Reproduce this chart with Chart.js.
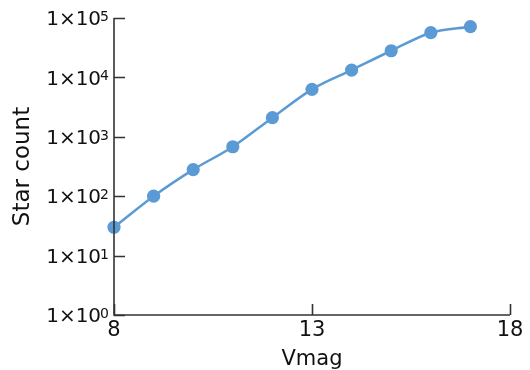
<!DOCTYPE html>
<html>
<head>
<meta charset="utf-8">
<script src="https://cdn.jsdelivr.net/npm/chart.js@4/dist/chart.umd.min.js"></script>
<style>
html,body{margin:0;padding:0;background:#fff;}
#wrap{width:530px;height:370px;}
</style>
</head>
<body>
<div id="wrap"><canvas id="c" width="530" height="370"></canvas></div>
<script>
const vmag = [8, 9, 10, 11, 12, 13, 14, 15, 16, 17];
const starCount = [30, 100, 280, 680, 2100, 6300, 13300, 28100, 56600, 71400];
const yTickExponents = [0, 1, 2, 3, 4, 5];
const xTickValues = [8, 13, 18];
const xTitle = 'Vmag';
const yTitle = 'Star count';

const FONT = '"DejaVu Sans", Verdana, sans-serif';
const AXIS_COLOR = '#333333';
const TEXT_COLOR = '#111111';
const LINE_COLOR = '#5b9bd5';

const axisPlugin = {
  id: 'axisPlugin',
  afterDraw(chart) {
    const ctx = chart.ctx;
    const xs = chart.scales.x, ys = chart.scales.y;
    const a = chart.chartArea;
    ctx.save();
    ctx.strokeStyle = AXIS_COLOR;
    ctx.lineWidth = 1.6;
    ctx.beginPath();
    ctx.moveTo(a.left, a.top);
    ctx.lineTo(a.left, a.bottom);
    ctx.lineTo(a.right, a.bottom);
    ctx.stroke();
    // inward tick marks
    ctx.beginPath();
    yTickExponents.forEach(e => {
      const py = Math.round(ys.getPixelForValue(Math.pow(10, e))) + 0.5;
      ctx.moveTo(a.left, py);
      ctx.lineTo(a.left + 11, py);
    });
    xTickValues.forEach(v => {
      const px = Math.round(xs.getPixelForValue(v)) + 0.5;
      ctx.moveTo(px, a.bottom);
      ctx.lineTo(px, a.bottom - 11);
    });
    ctx.stroke();
    // y tick labels 1×10^n
    ctx.fillStyle = TEXT_COLOR;
    ctx.textBaseline = 'alphabetic';
    ctx.textAlign = 'right';
    const baseSize = 20, expSize = 14;
    const baseCap = baseSize * 0.729, expCap = expSize * 0.729;
    yTickExponents.forEach(e => {
      const py = ys.getPixelForValue(Math.pow(10, e));
      const right = a.left - 5;
      const baseBaseline = py + baseCap / 2;
      const topY = baseBaseline - baseCap;
      ctx.font = expSize + 'px ' + FONT;
      const expTxt = String(e);
      const ew = ctx.measureText(expTxt).width;
      ctx.fillText(expTxt, right, topY + expCap);
      ctx.font = baseSize + 'px ' + FONT;
      ctx.fillText('1×10', right - ew + 1, baseBaseline);
    });
    ctx.restore();
  }
};

new Chart(document.getElementById('c'), {
  type: 'line',
  data: {
    datasets: [{
      data: vmag.map((v, i) => ({ x: v, y: starCount[i] })),
      borderColor: LINE_COLOR,
      backgroundColor: LINE_COLOR,
      borderWidth: 2.5,
      pointRadius: 6.6,
      pointHoverRadius: 6.6,
      pointBorderWidth: 0,
      cubicInterpolationMode: 'monotone',
      clip: false
    }]
  },
  options: {
    responsive: false,
    animation: false,
    devicePixelRatio: 1,
    layout: { padding: { left: 0, right: 20, top: 18, bottom: 0 } },
    plugins: { legend: { display: false }, tooltip: { enabled: false } },
    scales: {
      x: {
        type: 'linear',
        min: 8, max: 18,
        grid: { display: false, drawTicks: false },
        border: { display: false },
        afterBuildTicks: s => { s.ticks = xTickValues.map(v => ({ value: v })); },
        afterFit: s => { s.height = 55; },
        ticks: { color: TEXT_COLOR, font: { family: FONT, size: 21 }, padding: 3, maxRotation: 0, autoSkip: false },
        title: { display: true, text: xTitle, color: TEXT_COLOR, font: { family: FONT, size: 21, lineHeight: 1.0 }, padding: { top: 0, bottom: 0 } }
      },
      y: {
        type: 'logarithmic',
        min: 1, max: 100000,
        grid: { display: false, drawTicks: false },
        border: { display: false },
        afterBuildTicks: s => { s.ticks = yTickExponents.map(e => ({ value: Math.pow(10, e) })); },
        afterFit: s => { s.width = 114; },
        ticks: { display: false },
        title: { display: true, text: yTitle, color: TEXT_COLOR, font: { family: FONT, size: 23 }, padding: { top: 9, bottom: 0 } }
      }
    }
  },
  plugins: [axisPlugin]
});
</script>
</body>
</html>
